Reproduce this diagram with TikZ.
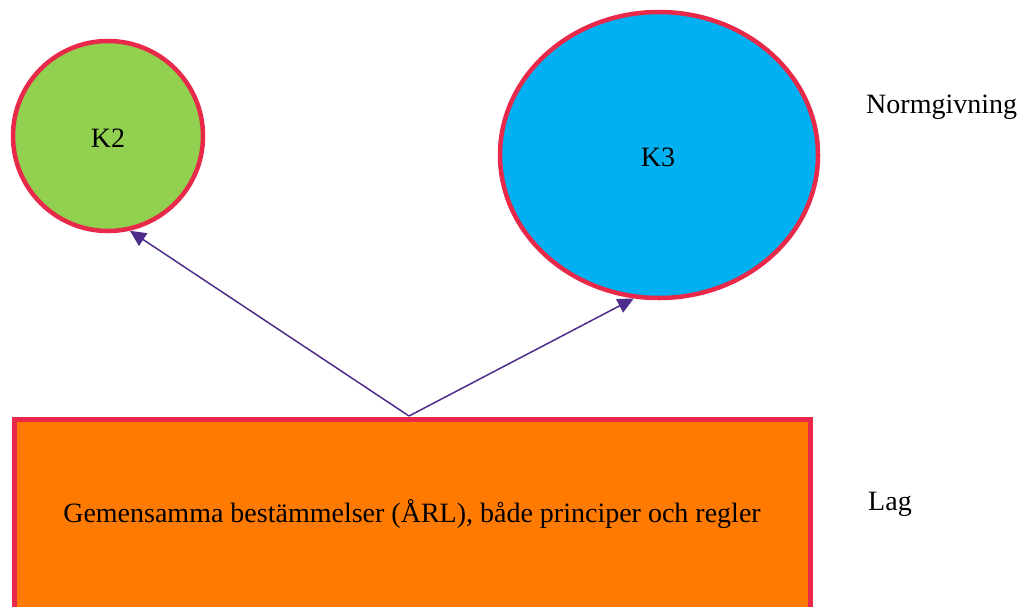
\documentclass[tikz,border=0pt]{standalone}
\usepackage{fontspec}
\setmainfont{Liberation Serif}
\usetikzlibrary{arrows.meta,shapes.geometric}
\definecolor{kgreen}{HTML}{92D050}
\definecolor{kblue}{HTML}{00B0F0}
\definecolor{korange}{HTML}{FF7A00}
\definecolor{kred}{HTML}{E8294A}
\definecolor{kpurple}{HTML}{4F2D8C}
\tikzset{
  shapebox/.style={draw=kred, line width=4.5pt},
  conn/.style={draw=kpurple, line width=1.5pt, -{Triangle[length=16pt,width=15pt]}},
  lbl/.style={font=\fontsize{28}{32}\selectfont, inner sep=0pt},
}
\begin{document}
\begin{tikzpicture}[x=1pt,y=-1pt]
\useasboundingbox (0,0) rectangle (1027,606);
\begin{scope}
\clip (0,0) rectangle (1027,606);
\node[shapebox, fill=korange, rectangle, minimum width=796pt, minimum height=240pt, anchor=north west, inner sep=0pt] (lag) at (12,417) {};
\end{scope}
\node[lbl] (lagtext) at (412,514) {Gemensamma bestämmelser (ÅRL), både principer och regler};
\node[shapebox, fill=kgreen, circle, minimum size=190pt, inner sep=0pt] (k2) at (108,136) {};
\node[lbl] (k2t) at (108,138) {K2};
\node[shapebox, fill=kblue, ellipse, minimum width=318pt, minimum height=286pt, inner sep=0pt] (k3) at (659,155) {};
\node[lbl] (k3t) at (658,157) {K3};
\node[lbl, anchor=west] (norm) at (866,107) {Normgivning};
\node[lbl, anchor=west] (lagl) at (868,504) {Lag};
\coordinate (src) at (409,416);
\draw[conn] (src) -- (k2.-77);
\draw[conn] (src) -- (k3.-100);
\end{tikzpicture}
\end{document}
